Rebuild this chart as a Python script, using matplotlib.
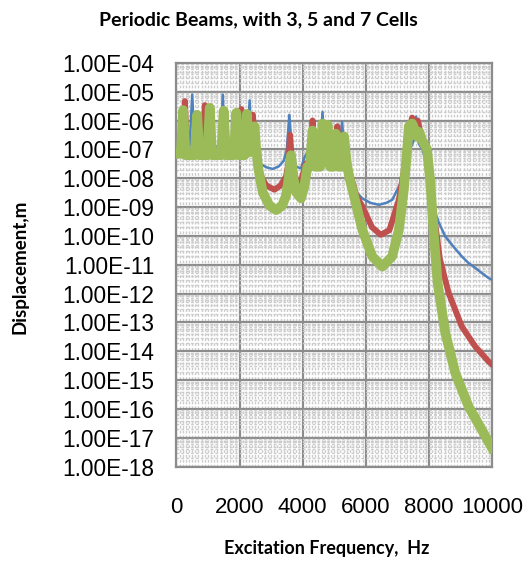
import matplotlib
matplotlib.use("Agg")
import matplotlib.pyplot as plt
from matplotlib.ticker import LogLocator, MultipleLocator, FuncFormatter, NullFormatter

# Frequency response (Hz, m)
freq_3 = [0, 120, 180, 240, 420, 500, 580, 900, 960, 1020, 1400, 1470, 1540, 1850, 1910, 1970,
          2250, 2320, 2390, 2480, 2634, 2850, 3054, 3250, 3400, 3500, 3580, 3660, 3800, 3950,
          4050, 4150, 4550, 4630, 4710, 5150, 5250, 5350, 5500, 5631, 5893, 6150, 6420, 6650,
          6839, 7000, 7104, 7250, 7400, 7520, 7597, 7680, 7800, 7950, 8100, 8300, 8523, 8800,
          9047, 9250, 9470, 9700, 9890, 10000]
disp_3 = [1.0e-7, 1.26e-7, 1.0e-6, 1.26e-7, 1.26e-7, 7.9e-6, 1.26e-7, 1.26e-7, 1.26e-6, 1.26e-7,
          1.26e-7, 7.9e-6, 1.26e-7, 1.26e-7, 1.26e-6, 1.26e-7, 1.58e-7, 5.0e-6, 1.58e-7, 1.26e-7,
          3.3e-8, 2.4e-8, 2.1e-8, 2.6e-8, 4.0e-8, 1.0e-7, 1.58e-6, 1.0e-7, 2.5e-8, 2.2e-8,
          5.0e-8, 7.9e-8, 6.3e-8, 2.0e-6, 6.3e-8, 5.0e-8, 8.9e-7, 4.0e-8, 1.26e-8, 4.0e-9,
          2.0e-9, 1.4e-9, 1.2e-9, 1.4e-9, 1.78e-9, 4.0e-9, 6.8e-9, 2.5e-8, 1.0e-7, 2.0e-7,
          1.38e-6, 1.58e-7, 1.0e-7, 2.5e-8, 1.38e-9, 3.2e-10, 9.5e-11, 4.0e-11, 1.95e-11,
          1.17e-11, 7.8e-12, 5.0e-12, 3.5e-12, 3.0e-12]

freq_5 = [0, 200, 268, 340, 830, 900, 970, 1420, 1500, 1580, 1990, 2056, 2120, 2360, 2423, 2500,
          2634, 2850, 3107, 3300, 3476, 3560, 3600, 3660, 3800, 3900, 4000, 4100, 4250, 4316,
          4390, 4620, 4700, 4780, 5020, 5100, 5180, 5380, 5550, 5700, 5893, 6200, 6472, 6750,
          7050, 7200, 7350, 7470, 7560, 7650, 7750, 7891, 8000, 8100, 8350, 8628, 9047, 9470,
          9890, 10000]
disp_5 = [7.9e-8, 7.9e-8, 4.7e-6, 7.9e-8, 7.9e-8, 3.4e-6, 7.9e-8, 7.9e-8, 1.58e-6, 7.9e-8,
          7.9e-8, 2.5e-6, 7.9e-8, 1.0e-7, 1.58e-6, 1.58e-7, 1.5e-8, 5.6e-9, 4.0e-9, 5.6e-9,
          1.15e-8, 4.0e-8, 3.2e-7, 4.0e-8, 7.9e-9, 5.0e-9, 1.26e-8, 3.2e-8, 4.0e-8, 1.0e-6,
          4.0e-8, 3.2e-8, 4.0e-7, 3.2e-8, 3.2e-8, 6.3e-7, 3.2e-8, 2.5e-8, 1.0e-8, 2.5e-9,
          1.05e-9, 2.0e-10, 1.1e-10, 1.58e-10, 1.78e-9, 1.58e-8, 3.2e-7, 1.26e-6, 5.0e-7, 1.0e-6,
          3.2e-7, 1.26e-7, 1.58e-8, 1.78e-9, 1.58e-11, 1.05e-12, 7.2e-14, 1.48e-14, 4.5e-15,
          3.5e-15]

freq_7 = [0, 140, 215, 290, 580, 657, 730, 980, 1057, 1130, 1420, 1498, 1570, 1820, 1899, 1970,
          2160, 2234, 2300, 2400, 2476, 2530, 2600, 2738, 2950, 3160, 3350, 3476, 3560, 3634,
          3710, 3800, 3950, 4050, 4150, 4230, 4316, 4400, 4560, 4632, 4710, 4790, 4870, 4980,
          5053, 5130, 5240, 5315, 5390, 5473, 5685, 5893, 6208, 6524, 6839, 7050, 7208, 7313,
          7366, 7470, 7550, 7628, 7700, 7786, 7943, 8050, 8155, 8280, 8523, 8839, 9259, 9679,
          9943, 10000]
disp_7 = [7.1e-8, 7.1e-8, 2.3e-6, 6.3e-8, 6.3e-8, 1.58e-6, 6.3e-8, 6.3e-8, 2.75e-6, 6.3e-8,
          6.3e-8, 2.2e-6, 6.3e-8, 6.3e-8, 1.86e-6, 6.3e-8, 6.3e-8, 1.7e-6, 7.9e-8, 1.0e-7,
          6.3e-7, 1.0e-7, 2.0e-8, 3.2e-9, 1.12e-9, 7.9e-10, 1.12e-9, 2.5e-9, 1.0e-8, 6.3e-8,
          1.0e-8, 3.2e-9, 2.0e-9, 5.0e-9, 2.5e-8, 2.5e-8, 4.5e-7, 2.5e-8, 2.5e-8, 7.9e-7,
          4.0e-8, 7.1e-7, 2.5e-8, 2.5e-8, 3.5e-7, 2.5e-8, 2.5e-8, 2.8e-7, 4.0e-8, 1.15e-8,
          1.38e-9, 1.62e-10, 1.95e-11, 8.7e-12, 1.95e-11, 1.62e-10, 4.0e-9, 1.0e-7, 6.3e-7,
          7.9e-7, 5.0e-7, 2.8e-7, 4.0e-7, 2.1e-7, 1.0e-7, 6.8e-9, 1.26e-10, 2.3e-12, 4.3e-14,
          1.78e-15, 1.23e-16, 1.9e-17, 5.8e-18, 4.5e-18]

fig = plt.figure(figsize=(5.25, 5.61), dpi=100)
ax = fig.add_axes([0.336, 0.168, 0.601, 0.720])

ax.plot(freq_3, disp_3, color="#4F81BD", lw=1.8, zorder=3)
ax.plot(freq_5, disp_5, color="#C0504D", lw=4.3, zorder=4)
ax.plot(freq_7, disp_7, color="#9BBB59", lw=7.0, zorder=5)

ax.set_yscale("log")
ax.set_xlim(0, 10000)
ax.set_ylim(1e-18, 1e-4)

# grid: solid major, dashed minor
ax.xaxis.set_major_locator(MultipleLocator(2000))
ax.xaxis.set_minor_locator(MultipleLocator(100))
ax.yaxis.set_major_locator(LogLocator(base=10, numticks=20))
ax.yaxis.set_minor_locator(LogLocator(base=10, subs=range(2, 10), numticks=200))
ax.yaxis.set_major_formatter(FuncFormatter(lambda v, pos: f"{v:.2E}"))
ax.yaxis.set_minor_formatter(NullFormatter())
ax.grid(which="major", color="#8C8C8C", lw=1.6)
ax.grid(which="minor", color="#CCCCCC", lw=1.0, ls=(0, (2, 1.5)))
ax.set_axisbelow(True)
for s in ax.spines.values():
    s.set_color("#8C8C8C")
    s.set_linewidth(1.6)

ax.tick_params(which="both", length=0)
ax.tick_params(axis="y", labelsize=16.3, pad=16)
ax.tick_params(axis="x", labelsize=16, pad=22)
for lab in ax.get_xticklabels() + ax.get_yticklabels():
    lab.set_fontfamily("Liberation Sans")

fig.text(0.622, 0.023, "Excitation Frequency,  Hz", ha="center", va="center",
         fontsize=13, fontweight="bold", family="Lato")
fig.text(0.038, 0.525, "Displacement,m", rotation=90, ha="center", va="center",
         fontsize=13.5, fontweight="bold", family="Lato")
fig.text(0.493, 0.964, "Periodic Beams, with 3, 5 and 7 Cells", ha="center", va="center",
         fontsize=14, fontweight="bold", family="Lato")

fig.savefig("out.png", dpi=100)
